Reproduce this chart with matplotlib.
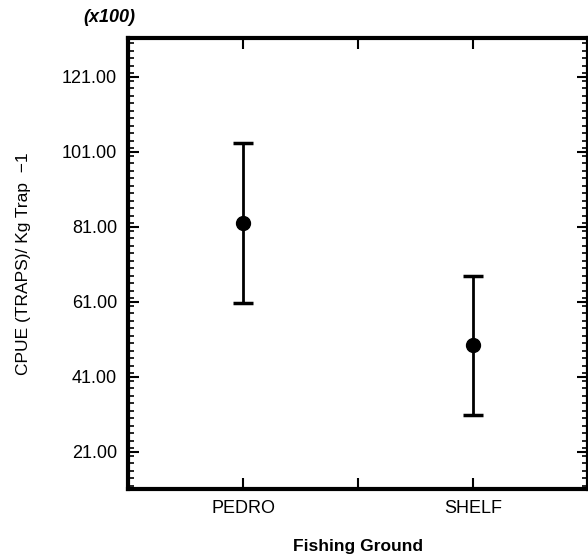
import matplotlib
matplotlib.use("Agg")
import matplotlib.pyplot as plt
from matplotlib.ticker import MultipleLocator, FixedLocator

# data (units: x100)
grounds = ["PEDRO", "SHELF"]
cpue_mean = [82.0, 49.4]
cpue_lower = [60.7, 30.9]
cpue_upper = [103.5, 67.9]
y_ticks = [21.0, 41.0, 61.0, 81.0, 101.0, 121.0]


def plot_cpue():
    plt.rcParams['font.family'] = ['Liberation Sans', 'DejaVu Sans']
    fig = plt.figure(figsize=(5.88, 5.57), dpi=100)
    ax = fig.add_axes([0.2177, 0.122, 0.7823, 0.81])

    xs = [1, 2]
    err_lo = [m - lo for m, lo in zip(cpue_mean, cpue_lower)]
    err_hi = [hi - m for m, hi in zip(cpue_mean, cpue_upper)]
    ax.errorbar(xs, cpue_mean, yerr=[err_lo, err_hi], fmt='o', color='black',
                markersize=10, elinewidth=2, capsize=7, capthick=2.5)

    ax.set_xlim(0.5, 2.5)
    ax.set_ylim(11.1, 131.4)
    # unlabeled middle tick between the two grounds
    ax.xaxis.set_major_locator(FixedLocator([1, 1.5, 2]))
    ax.set_xticklabels([grounds[0], "", grounds[1]])
    ax.yaxis.set_major_locator(FixedLocator(y_ticks))
    ax.yaxis.set_minor_locator(MultipleLocator(2))
    ax.set_yticklabels([f"{v:.2f}" for v in y_ticks])

    ax.tick_params(axis='both', which='major', direction='in', length=8, width=1.5,
                   top=True, right=True, labelsize=13, pad=8)
    ax.tick_params(axis='y', which='minor', direction='in', length=4, width=1.2,
                   right=True)
    for s in ax.spines.values():
        s.set_linewidth(3)

    ax.set_xlabel("Fishing Ground", fontsize=12.5, fontweight='bold', labelpad=16)
    ax.set_ylabel("CPUE (TRAPS)/ Kg Trap  \u22121", fontsize=12.5, labelpad=22)
    fig.text(0.142, 0.968, "(x100)", fontsize=13, fontweight='bold', style='italic',
             ha='left', va='center')

    fig.savefig("out.png", dpi=100)
    plt.close(fig)


if __name__ == '__main__':
    plot_cpue()
